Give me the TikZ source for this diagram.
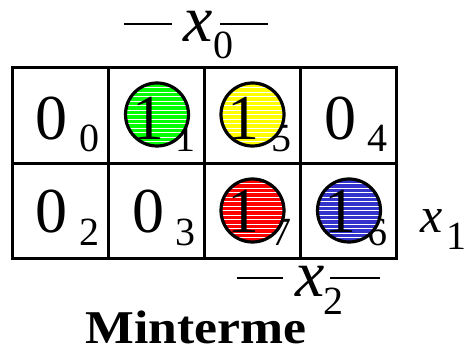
\documentclass[tikz,border=0pt]{standalone}
\usepackage{fontspec}
\setmainfont{Liberation Serif}
\definecolor{kgreen}{RGB}{0,255,0}
\definecolor{kyellow}{RGB}{255,255,0}
\definecolor{kred}{RGB}{255,0,0}
\definecolor{kblue}{RGB}{51,51,204}
\tikzset{
  big/.style={font=\fontsize{64}{64}\selectfont, anchor=base, inner sep=0pt},
  subd/.style={font=\fontsize{40}{40}\selectfont, anchor=base, inner sep=0pt, text height=0.7em},
  varx/.style={font=\fontsize{66}{66}\selectfont\itshape, anchor=base, inner xsep=1pt, inner ysep=0pt, text height=0.5em, text depth=0.02em},
  grp/.style={circle, draw=black, line width=3.2pt, minimum size=63pt, inner sep=0pt,
    path picture={\foreach \k in {-31.5,-27,...,32}
      \draw[white, line width=0.7pt] ([yshift=\k pt]path picture bounding box.west) -- ([yshift=\k pt]path picture bounding box.east);}},
  gridline/.style={line width=3pt},
  bar/.style={line width=2pt}
}
\begin{document}
\begin{tikzpicture}[x=1pt,y=-1pt]
\useasboundingbox (0,0) rectangle (468,352);
% grid
\draw[gridline] (12,68) rectangle (396,259);
\draw[gridline] (12,163.5) -- (396,163.5);
\draw[gridline] (108.5,68) -- (108.5,259);
\draw[gridline] (204,68) -- (204,259);
\draw[gridline] (300.5,68) -- (300.5,259);
% subscripts (behind circles)
\node[subd] (s0) at (89,152) {0};
\node[subd] (s1) at (185.5,152) {1};
\node[subd] (s5) at (281,152) {5};
\node[subd] (s4) at (377.5,152) {4};
\node[subd] (s2) at (89,246) {2};
\node[subd] (s3) at (185.5,246) {3};
\node[subd] (s7) at (281,246) {7};
\node[subd] (s6) at (377.5,246) {6};
% circles
\node[grp, fill=kgreen] (g1) at (157,114.5) {};
\node[grp, fill=kyellow] (g5) at (252.5,114.5) {};
\node[grp, fill=kred] (g7) at (252.5,210.5) {};
\node[grp, fill=kblue] (g6) at (349,210.5) {};
% main values
\node[big] (m0) at (51.5,140) {0};
\node[big] (m1) at (148,140) {1};
\node[big] (m5) at (243.5,140) {1};
\node[big] (m4) at (340,140) {0};
\node[big] (m2) at (51.5,233) {0};
\node[big] (m3) at (148,233) {0};
\node[big] (m7) at (243.5,233) {1};
\node[big] (m6) at (340,233) {1};
% x0
\draw[bar] (124,24) -- (172,24);
\draw[bar] (220,24) -- (268,24);
\node[varx] (x0) at (198,42) {x};
\node[subd] (x0s) at (223,59) {0};
% x1
\node[varx, font=\fontsize{50}{50}\selectfont\itshape] (x1) at (432,233) {x};
\node[subd] (x1s) at (456,250) {1};
% x2
\draw[bar] (237,278) -- (283,278);
\draw[bar] (330,278) -- (380,278);
\node[varx] (x2) at (310,297) {x};
\node[subd] (x2s) at (333,315) {2};
% title
\node[anchor=base, inner sep=0pt, font=\fontsize{47}{47}\selectfont\bfseries] (title) at (196,343) {\scalebox{1.1}[1]{Minterme}};
\end{tikzpicture}
\end{document}
